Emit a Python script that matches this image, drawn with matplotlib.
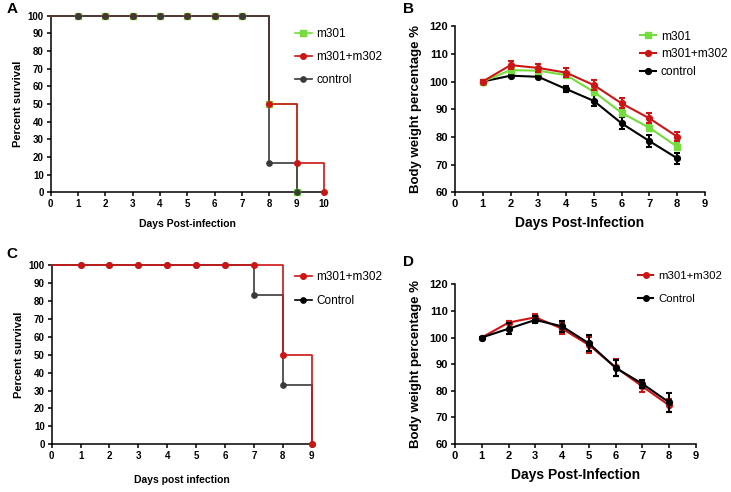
import matplotlib
matplotlib.use("Agg")
import matplotlib.pyplot as plt
import numpy as np

plt.rcParams['font.family'] = ['Liberation Sans', 'DejaVu Sans']

# ---------------- data ----------------
# Panel A (survival)
days_A = [0, 1, 2, 3, 4, 5, 6, 7, 8, 9, 10]
surv_A_m301 = [100, 100, 100, 100, 100, 100, 100, 100, 50, 0]
surv_A_combo = [100, 100, 100, 100, 100, 100, 100, 100, 50, 16.7, 0]
surv_A_ctrl = [100, 100, 100, 100, 100, 100, 100, 100, 16.7, 0]

# Panel B (body weight)
days_B = [1, 2, 3, 4, 5, 6, 7, 8]
bw_B_m301 = [100, 104.1, 103.9, 102.3, 96.3, 88.7, 83.3, 76.5]
bw_B_m301_err = [0.5, 1.0, 1.0, 1.0, 1.2, 1.3, 1.3, 1.3]
bw_B_combo = [100, 105.9, 104.9, 103.2, 98.7, 92.1, 86.7, 80.1]
bw_B_combo_err = [0.5, 1.5, 1.5, 1.5, 1.7, 1.8, 1.8, 1.7]
bw_B_ctrl = [100, 102.1, 101.7, 97.3, 93.0, 84.9, 78.5, 72.3]
bw_B_ctrl_err = [0.3, 0.5, 0.5, 1.0, 2.0, 2.2, 2.2, 2.0]

# Panel C (survival)
days_C = [0, 1, 2, 3, 4, 5, 6, 7, 8, 9]
surv_C_combo = [100, 100, 100, 100, 100, 100, 100, 100, 50, 0]
surv_C_ctrl = [100, 100, 100, 100, 100, 100, 100, 83.3, 33.3, 0]

# Panel D (body weight)
days_D = [1, 2, 3, 4, 5, 6, 7, 8]
bw_D_combo = [100, 105.6, 107.6, 103.3, 97.2, 88.8, 81.6, 74.5]
bw_D_combo_err = [0.3, 0.7, 1.3, 2.0, 3.0, 3.2, 2.2, 2.5]
bw_D_ctrl = [100, 103.3, 106.6, 104.2, 97.8, 88.6, 82.6, 75.6]
bw_D_ctrl_err = [0.3, 2.0, 1.3, 2.0, 3.0, 3.0, 1.5, 3.5]

GREEN = '#74DC3C'
RED = '#CC1515'
DGRAY = '#3A3A3A'
BLACK = '#000000'

fig = plt.figure(figsize=(7.31, 4.92), dpi=100)


def style_axes(ax, tick_fs):
    for s in ['top', 'right']:
        ax.spines[s].set_visible(False)
    for s in ['left', 'bottom']:
        ax.spines[s].set_linewidth(1.1)
    ax.tick_params(direction='out', length=3, width=1.1, labelsize=tick_fs, pad=2)
    for lab in ax.get_xticklabels() + ax.get_yticklabels():
        lab.set_fontweight('bold')


def surv_plot(ax, days, vals, color, marker, ms, lw=1.2):
    x = days[:len(vals)]
    ax.step(x, vals, where='post', color=color, lw=lw, clip_on=False, zorder=3)
    ax.plot(x[1:], vals[1:], ls='none', marker=marker, color=color, ms=ms, clip_on=False, zorder=4)


# ---------------- Panel A ----------------
axA = fig.add_axes([0.0694, 0.609, 0.3738, 0.359])
surv_plot(axA, days_A, surv_A_m301, GREEN, 's', 4.0)
surv_plot(axA, days_A, surv_A_combo, RED, 'o', 4.0)
surv_plot(axA, days_A, surv_A_ctrl, DGRAY, 'o', 3.8)
axA.set_xlim(0, 10)
axA.set_ylim(0, 100)
axA.set_xticks(range(0, 11))
axA.set_yticks(range(0, 101, 10))
axA.set_ylabel('Percent survival', fontsize=8, fontweight='bold', labelpad=3)
axA.set_xlabel('Days Post-infection', fontsize=7.5, fontweight='bold', labelpad=7)
style_axes(axA, 7)
hA = [plt.Line2D([], [], color=GREEN, marker='s', ms=4.0, lw=1.2),
      plt.Line2D([], [], color=RED, marker='o', ms=4.0, lw=1.2),
      plt.Line2D([], [], color=DGRAY, marker='o', ms=3.8, lw=1.2)]
axA.legend(hA, ['m301', 'm301+m302', 'control'], loc='upper left',
           bbox_to_anchor=(0.4036, 0.943), bbox_transform=fig.transFigure,
           frameon=False, fontsize=8.5, handlelength=1.4, handletextpad=0.4,
           labelspacing=0.95, borderpad=0, borderaxespad=0)

# ---------------- Panel B ----------------
axB = fig.add_axes([0.6224, 0.609, 0.342, 0.338])
ekw = dict(lw=1.5, elinewidth=1.5, capsize=2.5, capthick=1.5, ms=4.2)
axB.errorbar(days_B, bw_B_m301, yerr=bw_B_m301_err, color=GREEN, marker='s', zorder=3, **ekw)
axB.errorbar(days_B, bw_B_combo, yerr=bw_B_combo_err, color=RED, marker='o', zorder=4, **ekw)
axB.errorbar(days_B, bw_B_ctrl, yerr=bw_B_ctrl_err, color=BLACK, marker='o', zorder=2, **ekw)
axB.set_xlim(0, 9)
axB.set_ylim(60, 120)
axB.set_xticks(range(0, 10))
axB.set_yticks(range(60, 121, 10))
axB.set_ylabel('Body weight percentage %', fontsize=9.5, fontweight='bold', labelpad=5)
axB.set_xlabel('Days Post-Infection', fontsize=10, fontweight='bold', labelpad=5)
style_axes(axB, 8)
hB = [plt.Line2D([], [], color=GREEN, marker='s', ms=4.2, lw=1.5),
      plt.Line2D([], [], color=RED, marker='o', ms=4.2, lw=1.5),
      plt.Line2D([], [], color=BLACK, marker='o', ms=4.2, lw=1.5)]
axB.legend(hB, ['m301', 'm301+m302', 'control'], loc='upper left',
           bbox_to_anchor=(0.876, 0.938), bbox_transform=fig.transFigure,
           frameon=False, fontsize=8.6, handlelength=1.3, handletextpad=0.4,
           labelspacing=0.48, borderpad=0, borderaxespad=0)

# ---------------- Panel C ----------------
axC = fig.add_axes([0.0707, 0.097, 0.3557, 0.3638])
surv_plot(axC, days_C, surv_C_ctrl, DGRAY, 'o', 3.8)
surv_plot(axC, days_C, surv_C_combo, RED, 'o', 4.0)
axC.set_xlim(0, 9)
axC.set_ylim(0, 100)
axC.set_xticks(range(0, 10))
axC.set_yticks(range(0, 101, 10))
axC.set_ylabel('Percent survival', fontsize=8, fontweight='bold', labelpad=3)
axC.set_xlabel('Days post infection', fontsize=7.5, fontweight='bold', labelpad=10)
style_axes(axC, 7)
hC = [plt.Line2D([], [], color=RED, marker='o', ms=4.0, lw=1.2),
      plt.Line2D([], [], color=BLACK, marker='o', ms=3.8, lw=1.2)]
axC.legend(hC, ['m301+m302', 'Control'], loc='upper left',
           bbox_to_anchor=(0.4036, 0.449), bbox_transform=fig.transFigure,
           frameon=False, fontsize=8.5, handlelength=1.4, handletextpad=0.4,
           labelspacing=1.05, borderpad=0, borderaxespad=0)

# ---------------- Panel D ----------------
axD = fig.add_axes([0.6224, 0.0976, 0.3297, 0.3246])
axD.errorbar(days_D, bw_D_combo, yerr=bw_D_combo_err, color=RED, marker='o', zorder=3, **ekw)
axD.errorbar(days_D, bw_D_ctrl, yerr=bw_D_ctrl_err, color=BLACK, marker='o', zorder=4, **ekw)
axD.set_xlim(0, 9)
axD.set_ylim(60, 120)
axD.set_xticks(range(0, 10))
axD.set_yticks(range(60, 121, 10))
axD.set_ylabel('Body weight percentage %', fontsize=9.5, fontweight='bold', labelpad=5)
axD.set_xlabel('Days Post-Infection', fontsize=10, fontweight='bold', labelpad=5)
style_axes(axD, 8)
hD = [plt.Line2D([], [], color=RED, marker='o', ms=4.0, lw=1.5),
      plt.Line2D([], [], color=BLACK, marker='o', ms=4.0, lw=1.5)]
axD.legend(hD, ['m301+m302', 'Control'], loc='upper left',
           bbox_to_anchor=(0.873, 0.449), bbox_transform=fig.transFigure,
           frameon=False, fontsize=8.2, handlelength=1.3, handletextpad=0.5,
           labelspacing=1.1, borderpad=0, borderaxespad=0)

# ---------------- Panel letters ----------------
fig.text(0.009, 0.995, 'A', fontsize=11, fontweight='bold', va='top', ha='left')
fig.text(0.551, 0.995, 'B', fontsize=11, fontweight='bold', va='top', ha='left')
fig.text(0.009, 0.497, 'C', fontsize=11, fontweight='bold', va='top', ha='left')
fig.text(0.551, 0.482, 'D', fontsize=11, fontweight='bold', va='top', ha='left')

fig.savefig('out.png', dpi=100, facecolor='white')
